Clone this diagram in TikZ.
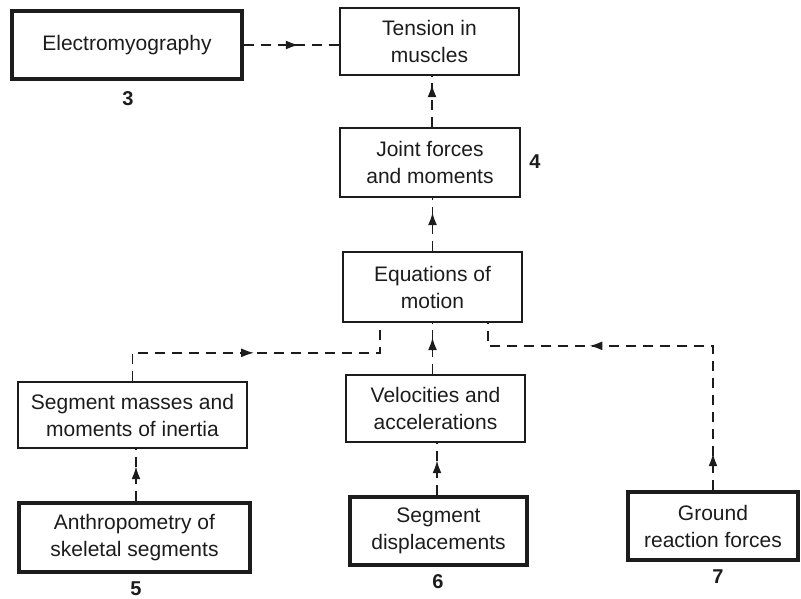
\documentclass[tikz,border=0pt]{standalone}
\usepackage{fontspec}
\setmainfont{Liberation Sans}
\usetikzlibrary{arrows.meta,decorations.markings,calc}
\definecolor{ink}{HTML}{1C1C1C}
\tikzset{
  box/.style={draw=ink, line width=1.7pt, rectangle, align=center, text=ink,
    inner sep=0pt, font=\fontsize{21}{27}\selectfont},
  thickbox/.style={box, line width=3.6pt},
  num/.style={text=ink, font=\fontsize{20}{24}\selectfont\bfseries, inner sep=0pt},
  flow/.style={draw=ink, line width=1.9pt, dash pattern=on 10pt off 7pt},
  tipat/.style={postaction={decorate}, decoration={markings,
    mark=at position #1 with {\arrow{Latex[length=13pt,width=9pt]}}}},
  tipsat/.style 2 args={postaction={decorate}, decoration={markings,
    mark=at position #1 with {\arrow{Latex[length=13pt,width=9pt]}},
    mark=at position #2 with {\arrow{Latex[length=13pt,width=9pt]}}}},
}
\begin{document}
\begin{tikzpicture}[x=1pt,y=-1pt]
  \useasboundingbox (0,0) rectangle (801,599);

  % blocks
  \node[thickbox, minimum width=230pt, minimum height=68pt] (emg) at (127,45) {Electromyography};
  \node[box, minimum width=179pt, minimum height=67pt] (ten) at (429.5,41.5) {Tension in\\muscles};
  \node[box, minimum width=180pt, minimum height=69pt] (jnt) at (430,162.5) {Joint forces\\and moments};
  \node[box, minimum width=179pt, minimum height=70pt] (eqn) at (432.5,287) {Equations of\\motion};
  \node[box, minimum width=229pt, minimum height=66pt] (seg) at (132.5,415) {Segment masses and\\moments of inertia};
  \node[box, minimum width=179pt, minimum height=67pt] (vel) at (435.5,408.5) {Velocities and\\accelerations};
  \node[thickbox, minimum width=231pt, minimum height=69pt] (ant) at (134.5,537.5) {Anthropometry of\\skeletal segments};
  \node[thickbox, minimum width=177pt, minimum height=68pt] (dis) at (438.5,531) {Segment\\displacements};
  \node[thickbox, minimum width=170pt, minimum height=68pt] (gnd) at (713,526) {Ground\\reaction forces};

  % block numbers
  \node[num] (n3) at (128,99) {3};
  \node[num] (n4) at (535,162) {4};
  \node[num] (n5) at (136,589) {5};
  \node[num] (n6) at (438,582) {6};
  \node[num] (n7) at (718,577) {7};

  % entry points on the lower edge of the equations block
  \coordinate (eqnL) at ([xshift=-52.5pt]eqn.south);
  \coordinate (eqnR) at ([xshift=55.5pt]eqn.south);

  % connectors
  \draw[flow, tipat=55pt] (emg.east) -- (emg.east -| ten.west);
  \draw[flow, tipat=43pt] ([xshift=2pt]jnt.north) -- ([xshift=2pt]jnt.north |- ten.south);
  \draw[flow, tipat=39pt] (eqn.north) -- (eqn.north |- jnt.south);
  \draw[flow, tipat=37pt] (vel.north -| eqn.south) -- (eqn.south);
  \draw[flow, tipat=35pt] ([xshift=1.5pt]ant.north) -- ([xshift=1.5pt]ant.north |- seg.south);
  \draw[flow, tipat=35pt] ([xshift=-1.5pt]dis.north) -- ([xshift=-1.5pt]dis.north |- vel.south);
  \draw[flow, tipat=150pt] (seg.north) |- ([yshift=-30pt]eqnL) -- (eqnL);
  \draw[flow, tipsat={37pt}{268pt}] (gnd.north) |- ([yshift=-23pt]eqnR) -- (eqnR);
\end{tikzpicture}
\end{document}
